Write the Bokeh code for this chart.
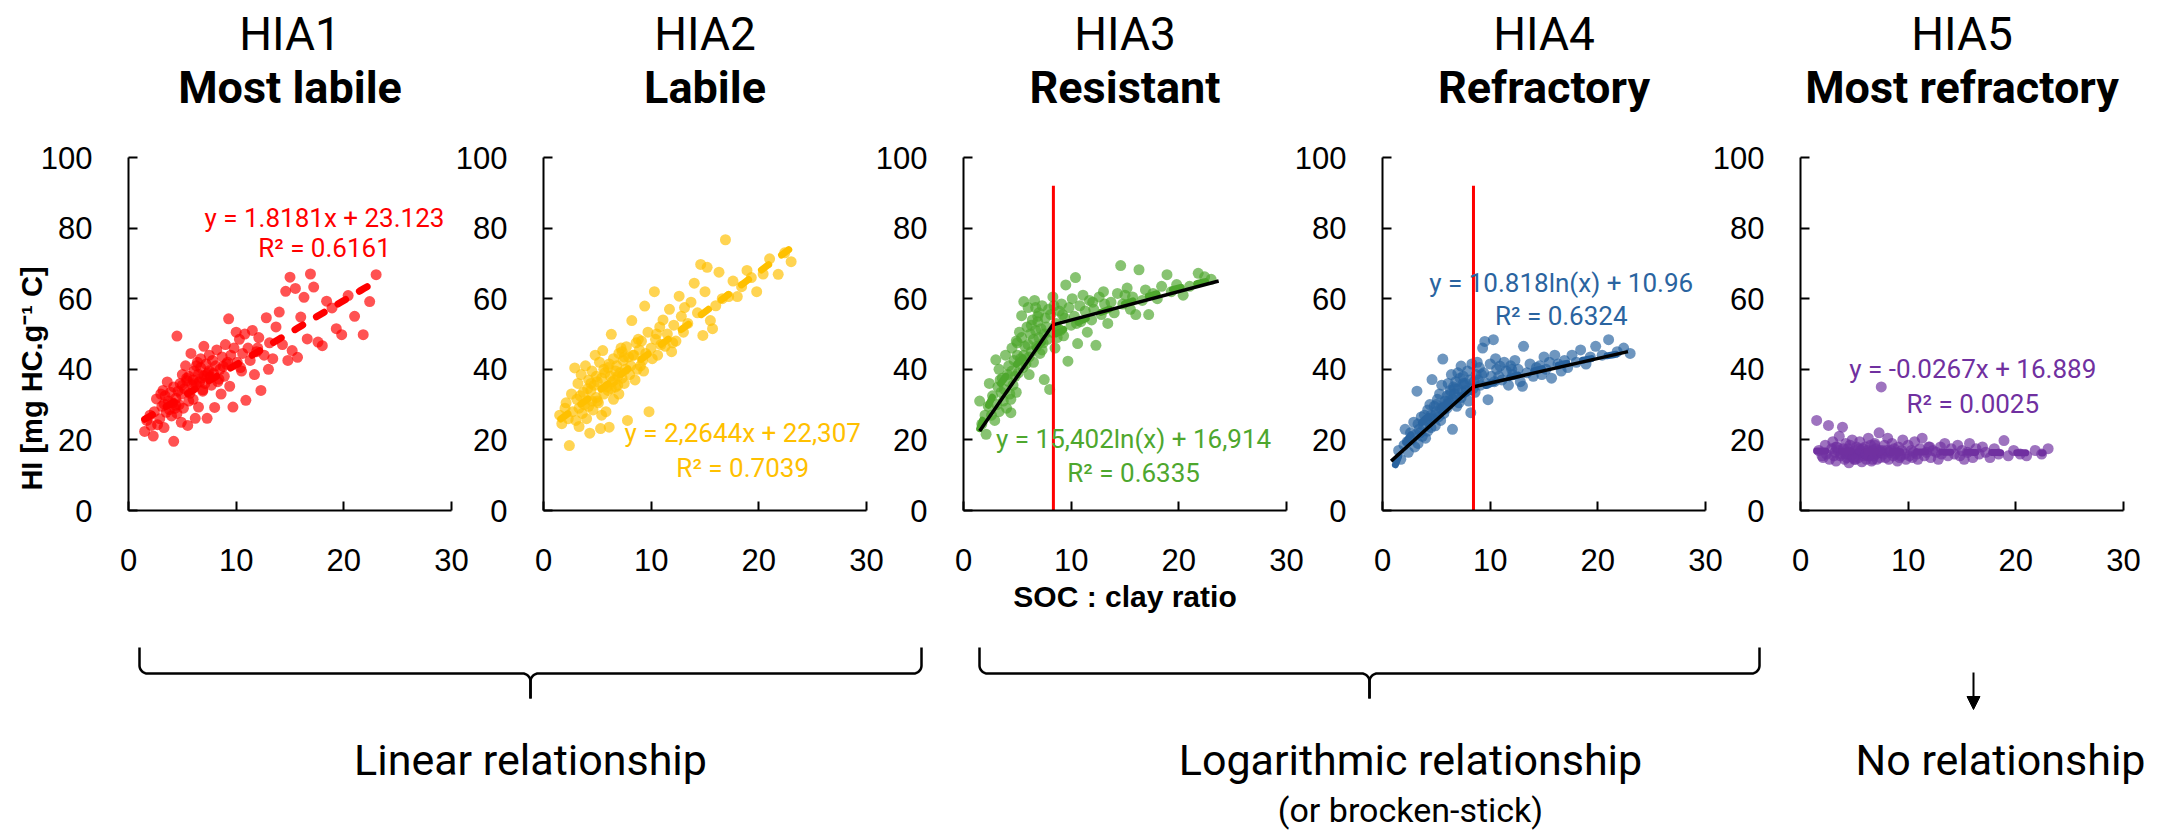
import numpy as np
from bokeh.plotting import figure
from bokeh.layouts import column, row
from bokeh.models import Range1d, FixedTicker, Arrow, NormalHead
from bokeh.core.properties import value
from bokeh.embed import file_html
from bokeh.resources import INLINE

# ---------------- data ----------------
panel_codes = ["HIA1", "HIA2", "HIA3", "HIA4", "HIA5"]
panel_names = ["Most labile", "Labile", "Resistant", "Refractory", "Most refractory"]
point_colors = ["#FF0000", "#FFC000", "#4EA72E", "#2A64A0", "#7030A0"]
text_colors = ["#FF0000", "#FFC000", "#4EA72E", "#2A64A0", "#7030A0"]
x_ticks = [0, 10, 20, 30]
y_ticks = [0, 20, 40, 60, 80, 100]
x_label = "SOC : clay ratio"
y_label = "HI [mg HC.g\u207b\u00b9 C]"

soc_clay = [
    1.5, 1.7, 2.1, 2.3, 2.4, 2.6, 2.7, 2.9, 3.0, 3.1,
    3.2, 3.3, 3.3, 3.5, 3.6, 3.7, 3.8, 3.9, 4.0, 4.1,
    4.2, 4.2, 4.3, 4.4, 4.5, 4.5, 4.6, 4.7, 4.8, 4.9,
    5.0, 5.1, 5.2, 5.3, 5.4, 5.5, 5.6, 5.7, 5.8, 5.9,
    6.0, 6.0, 6.1, 6.2, 6.3, 6.4, 6.5, 6.5, 6.6, 6.7,
    6.8, 6.9, 7.0, 7.0, 7.1, 7.2, 7.3, 7.4, 7.5, 7.6,
    7.7, 7.8, 7.9, 8.0, 8.1, 8.2, 8.3, 8.5, 8.6, 8.7,
    8.9, 9.0, 9.1, 9.3, 9.4, 9.5, 9.7, 9.8, 10.0, 10.1,
    10.3, 10.4, 10.6, 10.8, 10.9, 11.1, 11.3, 11.5, 11.7, 11.9,
    12.1, 12.3, 12.6, 12.8, 13.0, 13.1, 13.4, 13.7, 14.0, 14.3,
    14.6, 14.8, 15.0, 15.2, 15.5, 15.7, 16.0, 16.3, 16.6, 16.9,
    17.2, 17.6, 18.0, 18.4, 18.9, 19.3, 19.8, 20.4, 21.0, 21.8,
    22.4, 23.0, 2.0, 3.4, 4.4, 5.0, 5.6, 6.3, 6.9, 7.5,
    8.4, 9.2, 10.5, 12.0, 4.9, 5.4, 6.1, 6.7, 7.3, 8.8,
]

hi_hia1 = [
    22.4, 25.5, 24.1, 21.1, 28.0, 31.6, 24.3, 26.0, 33.0, 29.5,
    34.0, 23.5, 30.2, 27.8, 36.4, 31.0, 28.6, 33.5, 26.8, 30.5,
    19.6, 35.0, 28.9, 31.8, 49.4, 27.5, 33.8, 30.0, 36.0, 25.0,
    38.5, 29.0, 34.5, 41.0, 36.8, 24.1, 38.0, 33.2, 44.5, 35.6,
    37.0, 31.5, 39.5, 26.1, 35.8, 42.0, 38.6, 29.3, 36.5, 40.5,
    37.5, 33.8, 46.5, 38.2, 36.0, 41.5, 26.1, 39.0, 44.0, 37.8,
    35.5, 42.5, 38.8, 29.2, 41.0, 45.5, 36.5, 40.0, 33.0, 43.5,
    38.0, 47.0, 41.5, 54.3, 35.2, 44.0, 29.3, 46.0, 50.5, 42.0,
    48.5, 40.5, 44.5, 50.0, 31.2, 46.0, 42.5, 51.0, 38.5, 45.0,
    49.0, 34.0, 44.0, 54.6, 40.0, 47.5, 43.0, 52.0, 56.2, 47.0,
    62.1, 42.5, 66.1, 45.3, 62.9, 43.4, 54.8, 60.4, 48.6, 67.0,
    63.3, 47.7, 46.7, 59.3, 57.4, 51.5, 49.8, 60.9, 55.0, 49.8,
    59.2, 66.8, 27.0, 32.5, 29.8, 35.5, 31.0, 41.0, 34.2, 39.6,
    37.2, 42.0, 39.5, 46.0, 33.0, 37.5, 36.0, 43.0, 38.5, 40.8,
]

hi_hia2 = [
    27.0, 24.6, 30.5, 26.0, 18.4, 33.0, 28.0, 40.4, 25.5, 31.5,
    36.0, 23.8, 29.0, 38.5, 27.5, 33.5, 30.0, 41.0, 26.0, 34.5,
    29.5, 37.0, 21.9, 34.0, 31.0, 39.5, 28.5, 35.5, 44.0, 32.0,
    36.5, 30.5, 42.0, 23.2, 37.5, 45.3, 33.0, 39.0, 28.0, 35.0,
    40.5, 34.0, 23.6, 38.0, 49.9, 36.5, 31.5, 43.0, 37.0, 39.5,
    41.0, 35.5, 44.5, 33.0, 39.0, 46.0, 37.5, 42.5, 36.0, 40.0,
    46.4, 25.5, 43.5, 38.5, 41.0, 53.8, 44.0, 37.0, 47.5, 40.0,
    45.5, 41.0, 48.0, 39.5, 57.9, 44.5, 50.5, 28.0, 46.0, 43.0,
    62.0, 48.5, 44.0, 52.0, 47.0, 54.0, 46.5, 50.0, 57.0, 45.0,
    52.5, 48.0, 60.7, 55.0, 50.5, 57.5, 53.0, 59.0, 64.4, 56.0,
    69.7, 49.6, 62.0, 68.9, 53.8, 51.5, 58.0, 67.5, 60.0, 76.7,
    60.6, 65.0, 60.6, 63.4, 68.0, 66.0, 62.0, 67.0, 71.3, 66.9,
    73.0, 70.5, 29.0, 32.5, 36.0, 31.0, 40.0, 34.5, 38.0, 43.5,
    44.0, 42.5, 50.0, 47.5, 38.0, 27.0, 41.5, 35.0, 45.0, 48.5,
]

hi_hia3 = [
    31.0, 24.5, 21.6, 29.5, 36.0, 27.0, 32.5, 25.5, 42.7, 30.0,
    35.0, 28.0, 40.0, 33.5, 37.5, 31.0, 34.3, 44.0, 29.0, 38.5,
    36.5, 41.0, 33.0, 27.7, 39.5, 46.0, 35.5, 42.5, 38.0, 48.0,
    44.0, 39.0, 50.5, 43.0, 55.2, 40.5, 59.2, 46.5, 41.5, 52.0,
    47.0, 57.5, 43.5, 50.0, 45.0, 54.0, 48.5, 42.0, 59.5, 51.0,
    46.5, 53.5, 49.0, 56.0, 44.5, 51.5, 58.0, 47.5, 37.1, 54.5,
    52.0, 48.5, 57.0, 34.3, 55.5, 50.5, 60.5, 46.0, 53.0, 49.0,
    56.5, 51.0, 58.5, 49.5, 54.5, 63.9, 42.3, 57.5, 52.5, 60.0,
    55.0, 66.0, 47.3, 58.0, 53.5, 61.0, 56.5, 50.5, 59.5, 54.0,
    57.0, 46.8, 60.5, 55.5, 62.0, 58.5, 53.0, 59.0, 56.0, 61.5,
    69.4, 58.5, 61.0, 63.0, 57.0, 60.5, 55.5, 68.2, 59.5, 62.5,
    55.5, 61.5, 60.0, 63.5, 66.8, 62.0, 64.0, 61.0, 63.5, 67.2,
    66.2, 65.5, 27.0, 37.0, 31.5, 47.5, 44.0, 52.5, 55.0, 50.0,
    58.0, 55.5, 53.0, 59.0, 33.5, 49.0, 38.5, 57.5, 45.5, 51.5,
]

hi_hia4 = [
    17.0, 14.5, 23.0, 19.5, 16.5, 22.0, 20.1, 25.0, 18.0, 21.5,
    33.8, 19.0, 24.5, 22.0, 26.5, 21.0, 24.0, 27.0, 20.5, 25.5,
    22.5, 28.5, 25.0, 30.0, 23.5, 27.0, 37.1, 26.0, 29.5, 24.0,
    28.0, 31.5, 26.5, 33.0, 29.0, 35.5, 42.9, 27.5, 31.0, 30.0,
    32.5, 29.0, 36.0, 30.5, 34.0, 38.5, 23.0, 31.5, 35.0, 33.0,
    36.5, 32.0, 39.0, 34.5, 30.5, 37.5, 40.9, 33.5, 38.0, 35.5,
    36.0, 34.0, 39.5, 31.0, 37.0, 27.7, 41.5, 36.5, 33.5, 38.5,
    37.0, 40.5, 35.5, 46.0, 39.0, 47.9, 36.0, 31.4, 41.5, 38.0,
    48.4, 36.5, 40.0, 38.0, 40.9, 37.0, 42.0, 39.5, 35.5, 41.0,
    38.5, 42.5, 40.0, 36.5, 35.2, 46.5, 39.0, 41.5, 38.0, 40.5,
    41.0, 38.5, 43.5, 40.0, 42.0, 37.5, 44.0, 41.5, 39.5, 42.5,
    40.5, 44.0, 42.0, 45.5, 41.5, 43.5, 46.5, 44.0, 48.4, 45.0,
    46.0, 44.5, 18.5, 23.0, 26.0, 30.0, 28.5, 33.0, 29.5, 36.0,
    34.5, 38.5, 43.0, 40.0, 27.0, 25.5, 31.0, 34.5, 32.0, 42.0,
]

hi_hia5 = [
    25.5, 17.0, 15.0, 18.5, 16.0, 24.1, 14.5, 17.5, 19.5, 15.5,
    16.5, 18.0, 14.0, 17.0, 21.0, 15.5, 16.0, 23.6, 17.5, 14.5,
    16.0, 19.0, 15.0, 17.5, 13.5, 16.5, 18.5, 15.5, 20.0, 16.0,
    17.0, 14.5, 18.0, 16.0, 15.0, 19.5, 16.5, 13.8, 17.5, 15.5,
    18.0, 16.0, 14.5, 17.0, 20.5, 15.5, 16.5, 18.5, 14.0, 17.0,
    15.5, 19.0, 16.0, 17.5, 14.5, 16.5, 22.0, 15.0, 35.0, 17.0,
    16.0, 18.5, 15.0, 17.0, 20.5, 14.5, 16.5, 19.0, 15.5, 17.5,
    16.5, 14.0, 18.0, 15.5, 17.0, 20.0, 16.0, 14.5, 18.5, 15.5,
    17.0, 15.0, 19.5, 16.0, 14.5, 17.5, 20.5, 15.5, 16.5, 18.0,
    15.0, 17.0, 16.5, 14.5, 18.0, 16.0, 19.0, 15.5, 17.5, 16.0,
    18.5, 15.5, 17.0, 14.5, 16.5, 19.0, 15.0, 17.5, 16.0, 18.0,
    16.5, 15.0, 17.5, 16.0, 19.8, 15.5, 17.0, 16.0, 15.5, 17.0,
    16.0, 17.5, 15.5, 18.0, 16.0, 14.5, 17.0, 15.5, 18.5, 16.5,
    17.0, 15.0, 16.5, 18.0, 15.0, 17.5, 16.0, 14.5, 17.0, 16.0,
]

hi_series = [hi_hia1, hi_hia2, hi_hia3, hi_hia4, hi_hia5]

# trend-line equations as printed on the chart
eq_texts = ["y = 1.8181x + 23.123", "y = 2,2644x + 22,307", "y = 15,402ln(x) + 16,914",
            "y = 10.818ln(x) + 10.96", "y = -0.0267x + 16.889"]
r2_texts = ["R\u00b2 = 0.6161", "R\u00b2 = 0.7039", "R\u00b2 = 0.6335",
            "R\u00b2 = 0.6324", "R\u00b2 = 0.0025"]
fit_kind = ["lin", "lin", "log", "log", "lin"]
fit_a = [1.8181, 2.2644, 15.402, 10.818, -0.0267]
fit_b = [23.123, 22.307, 16.914, 10.96, 16.889]
fit_x_start = [1.5, 1.6, 1.5, 1.2, 1.5]
fit_x_end = [23.0, 23.0, 23.7, 22.8, 22.5]

# broken-stick fits (HIA3, HIA4)
stick_x = {2: [1.5, 8.3, 23.7], 3: [0.8, 8.4, 22.8]}
stick_y = {2: [22.5, 52.6, 65.0], 3: [14.0, 35.0, 45.0]}
break_x = {2: 8.35, 3: 8.45}
break_top = 92

group_labels = ["Linear relationship", "Logarithmic relationship", "No relationship"]
group_sub = "(or brocken-stick)"

# ---------------- layout constants (page pixels) ----------------
W, H = 2172, 835
ROW_TOP, ROW_BOTTOM = 130, 640
FRAME_TOP, FRAME_BOTTOM = 157, 510          # shared by every plot of the row
frames_x = [(128, 451), (543, 866), (963, 1286), (1382, 1705), (1800, 2123)]
eq_pos = [(18.2, 82.8, 74.4), (18.5, 21.9, 12.0), (15.8, 20.3, 10.7),
          (16.6, 64.4, 55.2), (16.0, 40.0, 30.2)]
YLAB_W = 70
YLAB_X, YLAB_CENTER = 31, 378                 # page position of the y title

TICK_FONT = "Liberation Sans"
TEXT_FONT = "Roboto"


def style_axes(p):
    for ax in (p.xaxis[0], p.yaxis[0]):
        ax.axis_line_color = "black"
        ax.axis_line_width = 2
        ax.major_tick_in = 9
        ax.major_tick_out = 0
        ax.major_tick_line_width = 2
        ax.major_tick_line_color = "black"
        ax.minor_tick_line_color = None
        ax.major_label_text_font = TICK_FONT
        ax.major_label_text_font_size = "31px"
        ax.major_label_text_color = "black"
    p.xaxis.ticker = FixedTicker(ticks=x_ticks)
    p.yaxis.ticker = FixedTicker(ticks=y_ticks)
    p.xaxis.major_label_standoff = 38
    p.yaxis.major_label_standoff = 36
    p.grid.visible = False
    p.outline_line_color = None
    p.background_fill_color = None
    p.border_fill_color = None


# y-axis title strip (transparent, same frame rows as the panels, overlapped by panel 1)
ylab = figure(width=YLAB_W, height=ROW_BOTTOM - ROW_TOP,
              x_range=Range1d(0, YLAB_W), y_range=Range1d(FRAME_BOTTOM, FRAME_TOP),
              min_border_left=0, min_border_right=0,
              min_border_top=FRAME_TOP - ROW_TOP, min_border_bottom=ROW_BOTTOM - FRAME_BOTTOM,
              output_backend="svg", toolbar_location=None, title=None,
              x_axis_location=None, y_axis_location=None)
ylab.grid.visible = False
ylab.outline_line_color = None
ylab.background_fill_color = None
ylab.border_fill_color = None
ylab.text(x=[YLAB_X], y=[YLAB_CENTER], text=[y_label], angle=np.pi / 2, text_align="center",
          text_baseline="middle", text_font=value(TICK_FONT), text_font_size="29px",
          text_font_style="bold", text_color="black")

figs = []
prev_right = YLAB_W
for k in range(5):
    L, R = frames_x[k]
    fl = 0 if k == 0 else L - 110
    fr = W if k == 4 else R + 35
    p = figure(width=fr - fl, height=ROW_BOTTOM - ROW_TOP,
               x_range=Range1d(0, 30), y_range=Range1d(0, 100),
               min_border_left=L - fl, min_border_right=fr - R,
               min_border_top=FRAME_TOP - ROW_TOP, min_border_bottom=ROW_BOTTOM - FRAME_BOTTOM,
               output_backend="svg", toolbar_location=None, title=None)
    p.margin = (0, 0, 0, fl - prev_right)
    prev_right = fr
    style_axes(p)

    col = point_colors[k]
    p.scatter(soc_clay, hi_series[k], size=11, fill_color=col, fill_alpha=0.68,
              line_color=None)

    xs = np.linspace(fit_x_start[k], fit_x_end[k], 60)
    if fit_kind[k] == "lin":
        ys = fit_a[k] * xs + fit_b[k]
    else:
        ys = fit_a[k] * np.log(xs) + fit_b[k]
    p.line(xs, ys, line_color=col, line_width=7, line_dash="9 16", line_cap="round")

    if k in stick_x:
        p.line(stick_x[k], stick_y[k], line_color="black", line_width=3.5)
        p.segment(x0=[break_x[k]], y0=[0], x1=[break_x[k]], y1=[break_top],
                  line_color="#FF0000", line_width=3)

    ex, ey, ry = eq_pos[k]
    p.text(x=[ex, ex], y=[ey, ry], text=[eq_texts[k], r2_texts[k]],
           text_align="center", text_baseline="middle",
           text_font=value(TEXT_FONT), text_font_size="26px", text_color=text_colors[k])

    if k == 2:
        p.xaxis.axis_label = x_label
        p.xaxis.axis_label_text_font = TICK_FONT
        p.xaxis.axis_label_text_font_style = "bold"
        p.xaxis.axis_label_text_font_size = "30px"
        p.xaxis.axis_label_text_color = "black"
        p.xaxis.axis_label_standoff = 6
    figs.append(p)

# ---------------- titles ----------------
top = figure(width=W, height=ROW_TOP, x_range=Range1d(0, W), y_range=Range1d(ROW_TOP, 0),
             min_border=0, output_backend="svg", toolbar_location=None, title=None,
             x_axis_location=None, y_axis_location=None)
top.grid.visible = False
top.outline_line_color = None
centers = [(a + b) / 2 for (a, b) in frames_x]
top.text(x=centers, y=[33] * 5, text=panel_codes, text_align="center",
         text_baseline="middle", text_font=value(TEXT_FONT), text_font_size="46px",
         text_color="black")
top.text(x=centers, y=[87] * 5, text=panel_names, text_align="center",
         text_baseline="middle", text_font=value(TEXT_FONT), text_font_size="45px",
         text_font_style="bold", text_color="black")

# ---------------- bottom annotations ----------------
bot = figure(width=W, height=H - ROW_BOTTOM, x_range=Range1d(0, W),
             y_range=Range1d(H, ROW_BOTTOM), min_border=0, output_backend="svg",
             toolbar_location=None, title=None, x_axis_location=None, y_axis_location=None)
bot.grid.visible = False
bot.outline_line_color = None

brace_spans = [(139, 921), (979, 1759)]
BR_TOP, BR_MID, BR_TIP, BR_R = 647, 673, 698, 8


def brace(x1, x2):
    xm = (x1 + x2) / 2
    t = np.linspace(0, np.pi / 2, 12)
    xs = [x1] + list(x1 + BR_R - BR_R * np.cos(t)) + list(xm - BR_R + BR_R * np.sin(t)) + [xm]
    ys = [BR_TOP] + list(BR_MID - BR_R + BR_R * np.sin(t)) + list(BR_MID + BR_R - BR_R * np.cos(t)) + [BR_TIP]
    xr = [2 * xm - v for v in xs]
    return [xs, xr], [ys, ys]


mx, my = [], []
for (a, b) in brace_spans:
    bx, by = brace(a, b)
    mx += bx
    my += by
bot.multi_line(mx, my, line_color="black", line_width=2.5)

bot.add_layout(Arrow(end=NormalHead(size=13, fill_color="black", line_color="black"),
                     x_start=1973, y_start=672, x_end=1973, y_end=709,
                     line_color="black", line_width=2))

bot.text(x=[530, 1410, 2000], y=[759, 759, 759], text=group_labels, text_align="center",
         text_baseline="middle", text_font=value(TEXT_FONT), text_font_size="43px",
         text_color="black")
bot.text(x=[1410], y=[809], text=[group_sub], text_align="center", text_baseline="middle",
         text_font=value(TEXT_FONT), text_font_size="34px", text_color="black")

layout = column(top, row(ylab, *figs), bot)
open("out.html", "w").write(file_html(layout, INLINE))
